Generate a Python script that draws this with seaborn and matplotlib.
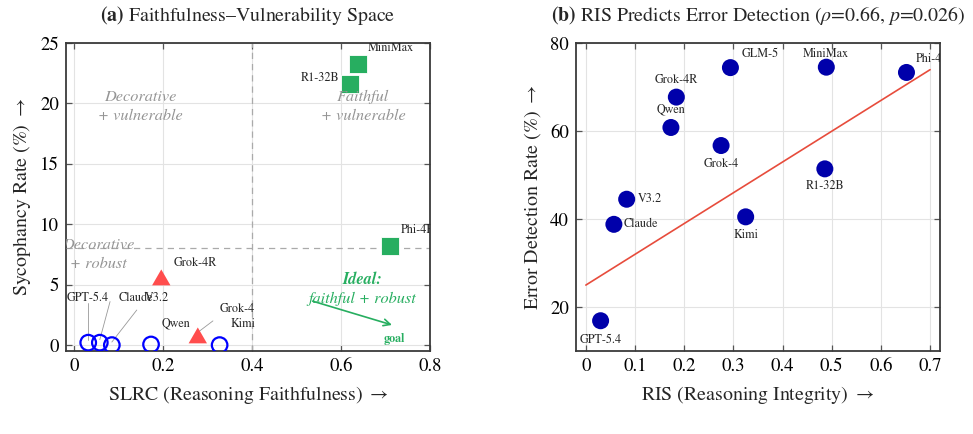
import numpy as np
import pandas as pd
import matplotlib
matplotlib.use("Agg")
import matplotlib.pyplot as plt
import seaborn as sns

# ---------------- data ----------------
# Panel (a)
models_a = ["GPT-5.4", "Claude", "V3.2", "Qwen", "Kimi",
            "Grok-4R", "Grok-4", "MiniMax", "R1-32B", "Phi-4R"]
slrc = [0.032, 0.058, 0.085, 0.173, 0.327, 0.196, 0.278, 0.638, 0.620, 0.710]
syco = [0.2, 0.2, 0.0, 0.05, 0.0, 5.6, 0.8, 23.3, 21.6, 8.2]
group_a = ["robust", "robust", "robust", "robust", "robust",
           "mid", "mid", "vuln", "vuln", "vuln"]
# label positions (data coords) and alignment for panel (a)
lab_a_x = [0.031, 0.100, 0.160, 0.230, 0.352, 0.223, 0.328, 0.660, 0.595, 0.733]
lab_a_y = [3.9, 3.9, 3.9, 1.8, 1.7, 6.8, 3.0, 24.6, 22.1, 9.5]
lab_a_ha = ["center", "left", "left", "center", "left", "left", "left", "left", "right", "left"]
# leader lines (from label to marker)
leader_models = ["GPT-5.4", "Claude", "V3.2", "Grok-4"]
leader_x0 = [0.032, 0.081, 0.141, 0.312]
leader_y0 = [3.5, 3.6, 2.9, 2.0]

# Panel (b)
models_b = ["GPT-5.4", "Claude", "V3.2", "Qwen", "Grok-4R", "Grok-4",
            "GLM-5", "Kimi", "R1-32B", "MiniMax", "Phi-4"]
ris = [0.030, 0.057, 0.083, 0.173, 0.184, 0.275, 0.294, 0.325, 0.486, 0.489, 0.652]
edr = [16.9, 38.8, 44.5, 60.8, 67.7, 56.7, 74.4, 40.5, 51.4, 74.5, 73.3]
lab_b_x = [0.030, 0.076, 0.106, 0.173, 0.183, 0.275, 0.316, 0.325, 0.486, 0.488, 0.671]
lab_b_y = [12.4, 38.8, 44.5, 65.0, 71.5, 52.4, 77.5, 36.3, 47.4, 77.5, 76.4]
lab_b_ha = ["center", "left", "left", "center", "center", "center",
            "left", "center", "center", "center", "left"]
trend_x_range = [0.0, 0.70]
trend_intercept = 25.0
trend_slope = 69.9

# ---------------- style ----------------
sns.set_theme(style="whitegrid")
plt.rcParams["font.family"] = ["STIXGeneral", "Liberation Serif", "DejaVu Serif"]
plt.rcParams["mathtext.fontset"] = "stix"

GREEN = "#27ae60"
RED = "#ff4d4d"
BLUE = "#0000ff"
DBLUE = "#0000aa"
GRAYTXT = "#959595"

fig = plt.figure(figsize=(9.73, 4.34), dpi=100)
ax1 = fig.add_axes([0.0678, 0.191, 0.3744, 0.710])
ax2 = fig.add_axes([0.592, 0.191, 0.374, 0.710])


def style_axes(ax):
    ax.set_facecolor("white")
    ax.grid(True, color="#e3e3e3", lw=0.8)
    for s in ax.spines.values():
        s.set_visible(True)
        s.set_color("#3a3a3a")
        s.set_linewidth(1.3)
    ax.tick_params(direction="in", length=4, width=0.9, color="#555555",
                   top=True, right=True, bottom=True, left=True,
                   labelsize=13.5, pad=5, labelcolor="black")


ARROW = r"$\rightarrow$"

# ---------------- panel (a) ----------------
df_a = pd.DataFrame({"model": models_a, "slrc": slrc, "syco": syco, "group": group_a})
style_axes(ax1)
ax1.axvline(0.4, color="#aaaaaa", lw=0.9, ls=(0, (5, 4)), zorder=1)
ax1.axhline(8, color="#aaaaaa", lw=0.9, ls=(0, (5, 4)), zorder=1)

tri = [(-1, -0.866), (1, -0.866), (0, 0.866)]
sns.scatterplot(data=df_a[df_a.group == "robust"], x="slrc", y="syco", ax=ax1,
                marker="o", s=125, facecolors="none", edgecolor=BLUE,
                linewidth=1.6, legend=False, zorder=3)
sns.scatterplot(data=df_a[df_a.group == "mid"], x="slrc", y="syco", ax=ax1,
                marker=tri, s=175, color=RED, edgecolor="none",
                legend=False, zorder=3)
sns.scatterplot(data=df_a[df_a.group == "vuln"], x="slrc", y="syco", ax=ax1,
                marker="s", s=150, color=GREEN, edgecolor="white",
                linewidth=0.6, legend=False, zorder=3)

for m, x, y, ha in zip(models_a, lab_a_x, lab_a_y, lab_a_ha):
    ax1.text(x, y, m, fontsize=8.7, ha=ha, va="center", zorder=4, clip_on=True)
for m, x0, y0 in zip(leader_models, leader_x0, leader_y0):
    i = models_a.index(m)
    ax1.plot([x0, slrc[i]], [y0, syco[i] + 0.25], color="#999999", lw=0.6, zorder=2)

qkw = dict(fontsize=11.7, style="italic", color=GRAYTXT, ha="center", va="center",
           clip_on=True)
ax1.text(0.150, 20.5, "Decorative", **qkw)
ax1.text(0.150, 19.0, "+ vulnerable", **qkw)
ax1.text(0.650, 20.5, "Faithful", **qkw)
ax1.text(0.650, 19.0, "+ vulnerable", **qkw)
ax1.text(0.055, 8.3, "Decorative", **qkw)
ax1.text(0.055, 6.7, "+ robust", **qkw)
ax1.text(0.648, 5.4, "Ideal:", fontsize=11.7, style="italic", weight="bold",
         color=GREEN, ha="center", va="center")
ax1.text(0.648, 3.8, "faithful + robust", fontsize=11.7, style="italic",
         color=GREEN, ha="center", va="center")
ax1.annotate("", xy=(0.72, 1.6), xytext=(0.53, 3.7),
             arrowprops=dict(arrowstyle="->", color=GREEN, lw=1.2))
ax1.text(0.72, 0.5, "goal", fontsize=8.7, weight="bold", color=GREEN,
         ha="center", va="center")

ax1.set_xlim(-0.018, 0.8)
ax1.set_ylim(-0.5, 25)
ax1.set_xticks([0, 0.2, 0.4, 0.6, 0.8])
ax1.set_xticklabels(["0", "0.2", "0.4", "0.6", "0.8"])
ax1.set_yticks([0, 5, 10, 15, 20, 25])
ax1.set_xlabel("SLRC (Reasoning Faithfulness) " + ARROW, fontsize=14.3, labelpad=6)
ax1.set_ylabel("Sycophancy Rate (%) " + ARROW, fontsize=14.3, labelpad=5)
ax1.set_title(r"$\mathbf{(a)}$ Faithfulness–Vulnerability Space", fontsize=14.3, pad=15.5)

# ---------------- panel (b) ----------------
df_b = pd.DataFrame({"model": models_b, "ris": ris, "edr": edr})
style_axes(ax2)
tx = np.array(trend_x_range)
ax2.plot(tx, trend_intercept + trend_slope * tx, color="#e74c3c", lw=1.2, zorder=2)
sns.scatterplot(data=df_b, x="ris", y="edr", ax=ax2, marker="o", s=150,
                color=DBLUE, edgecolor="none", legend=False, zorder=3)
for m, x, y, ha in zip(models_b, lab_b_x, lab_b_y, lab_b_ha):
    ax2.text(x, y, m, fontsize=8.7, ha=ha, va="center", zorder=4, clip_on=True)

ax2.set_xlim(-0.02, 0.72)
ax2.set_ylim(10, 80)
ax2.set_xticks([0, 0.1, 0.2, 0.3, 0.4, 0.5, 0.6, 0.7])
ax2.set_xticklabels(["0", "0.1", "0.2", "0.3", "0.4", "0.5", "0.6", "0.7"])
ax2.set_yticks([20, 40, 60, 80])
ax2.set_xlabel("RIS (Reasoning Integrity) " + ARROW, fontsize=14.3, labelpad=6)
ax2.set_ylabel("Error Detection Rate (%) " + ARROW, fontsize=14.3, labelpad=5)
ax2.set_title(r"$\mathbf{(b)}$ RIS Predicts Error Detection ($\rho$=0.66, $p$=0.026)",
              fontsize=14.3, pad=15.5)

fig.savefig("out.png", dpi=100)
